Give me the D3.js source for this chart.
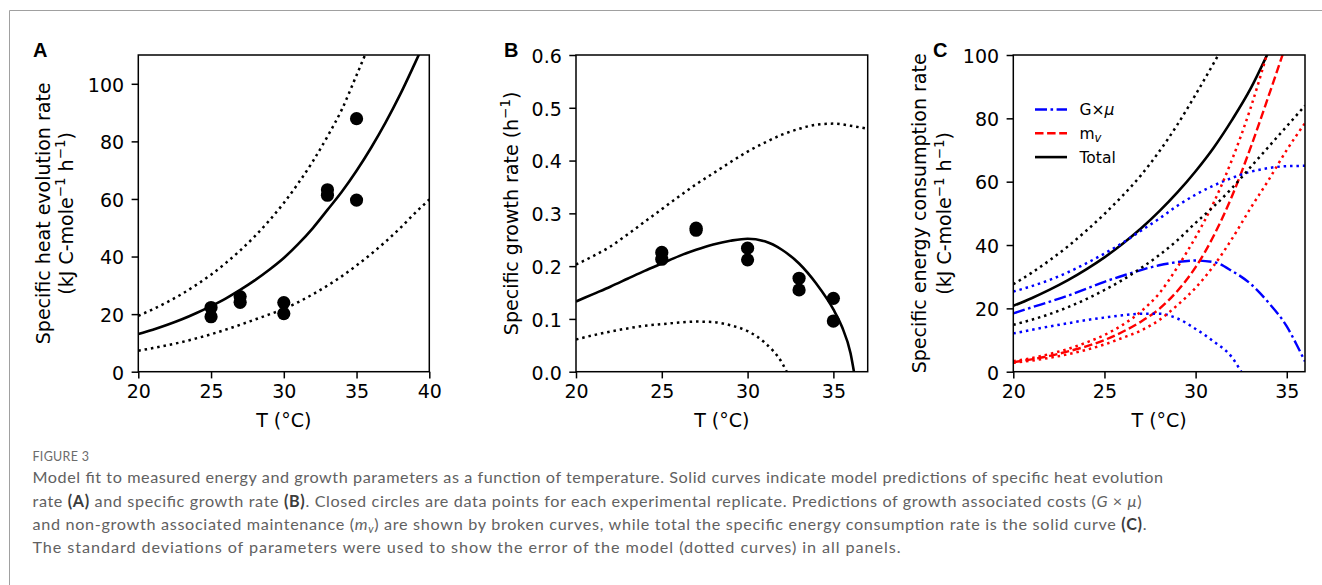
<!DOCTYPE html>
<html>
<head>
<meta charset="utf-8">
<script src="https://cdn.jsdelivr.net/npm/d3@7"></script>
<style>
  html, body { margin: 0; padding: 0; background: #fff; }
  svg { display: block; }
</style>
</head>
<body>
<svg id="fig" width="1322" height="585"></svg>
<script>
// ---------- Panel A: specific heat evolution rate ----------
const heatFitT   = [20,21,22,23,24,25,26,27,28,29,30,31,32,33,34,35,36,37,38,39,40];
const heatFit    = [13.1,14.6,16.3,18.2,20.4,22.8,25.4,28.4,31.7,35.4,39.5,44.4,49.9,56.2,62.6,69.8,77.8,86.6,96.3,107,118];
const heatUpperT = [20,21,22,23,24,25,26,27,28,29,30,31,32,33,34,35,36];
const heatUpper  = [19.4,21.7,24.2,27.0,30.2,33.7,37.7,42.1,47.0,52.5,58.6,65.5,73.1,81.7,91.2,103,115];
const heatLowerT = [20,21,22,23,24,25,26,27,28,29,30,31,32,33,34,35,36,37,38,39,40];
const heatLower  = [7.3,8.2,9.2,10.3,11.6,13.0,14.6,16.3,18.1,19.9,21.8,24.2,26.9,29.9,33.2,36.9,40.9,45.2,49.9,55.0,59.8];
const heatObsT   = [25,25,27,27,30,30,33,33,35,35];
const heatObs    = [22.3,19.1,26.1,24.1,24.0,20.2,63.2,61.3,87.9,59.6];

// ---------- Panel B: specific growth rate ----------
const growthFitT   = [20,21,22,23,24,25,26,27,28,29,30,31,32,33,34,35,35.5,36,36.2];
const growthFit    = [0.133,0.147,0.161,0.176,0.191,0.205,0.219,0.231,0.241,0.248,0.252,0.247,0.231,0.205,0.167,0.118,0.085,0.035,0.0];
const growthUpperT = [20,21,22,23,24,25,26,27,28,29,30,31,32,33,34,35,36,37];
const growthUpper  = [0.203,0.219,0.237,0.260,0.284,0.308,0.332,0.355,0.376,0.397,0.417,0.434,0.449,0.460,0.468,0.470,0.466,0.460];
const growthLowerT = [20,21,22,23,24,25,26,27,28,29,30,31,32,32.28];
const growthLower  = [0.061,0.069,0.076,0.082,0.087,0.090,0.093,0.095,0.094,0.088,0.077,0.055,0.017,0.0];
const growthObsT   = [25,25,27,27,30,30,33,33,35,35];
const growthObs    = [0.226,0.213,0.272,0.268,0.234,0.212,0.177,0.155,0.139,0.096];

// ---------- Panel C: specific energy consumption rate ----------
const gmuT        = [20,21,22,23,24,25,26,27,28,29,30,31,32,33,34,35,35.5,36];
const gmu         = [18.4,20.3,22.1,24.0,26.2,28.4,30.3,32.1,33.6,34.6,35.1,34.6,31.8,27.8,21.8,14.3,9.0,3.2];
const gmuUpperT   = [20,21,22,23,24,25,26,27,28,29,30,31,32,33,34,35,36];
const gmuUpper    = [25.3,27.0,29.0,31.4,34.2,37.3,40.7,44.5,48.3,52.4,55.9,58.8,61.2,63.1,64.3,64.9,65.0];
const gmuLowerT   = [20,21,22,23,24,25,26,27,28,29,30,31,32,32.5];
const gmuLower    = [12.1,13.2,14.3,15.3,16.3,17.1,17.8,18.3,18.3,16.8,13.5,9.5,4.5,0];
const mvT         = [20,21,22,23,24,25,26,27,28,29,30,31,32,33,34,35];
const mv          = [3.0,3.9,5.0,6.4,8.0,10.0,12.6,15.8,19.8,25.5,33.0,43.0,55.5,70.5,87,104];
const mvUpperT    = [20,21,22,23,24,25,26,27,28,29,30,31,32,33,34];
const mvUpper     = [3.3,4.3,5.6,7.2,9.2,11.6,14.8,19.0,24.7,33.0,42.5,53.5,67.0,83.0,102];
const mvLowerT    = [20,21,22,23,24,25,26,27,28,29,30,31,32,33,34,35,36];
const mvLower     = [2.8,3.5,4.4,5.5,6.9,8.6,10.7,13.0,16.3,21.0,26.5,33.5,42.0,51.5,60.5,70.0,78.5];
const totalT      = [20,21,22,23,24,25,26,27,28,29,30,31,32,33,34];
const total       = [20.8,23.2,25.9,28.9,32.3,36.1,40.4,45.2,50.6,56.6,63.3,70.8,79.5,89.2,101];
const totalUpperT = [20,21,22,23,24,25,26,27,28,29,30,31,32];
const totalUpper  = [27.6,31.2,35.2,39.6,44.5,49.8,55.6,62.0,69.5,78.0,87.5,97.5,108];
const totalLowerT = [20,21,22,23,24,25,26,27,28,29,30,31,32,33,34,35,36];
const totalLower  = [14.8,16.4,18.2,20.4,22.9,25.8,29.0,32.7,36.8,41.5,47.0,52.2,58.0,64.5,71.0,77.5,84.0];

// ---------- Tick values ----------
const ticksAx = [20,25,30,35,40];
const ticksAy = [0,20,40,60,80,100];
const ticksBx = [20,25,30,35];
const ticksBy = [0,0.1,0.2,0.3,0.4,0.5,0.6];
const ticksCx = [20,25,30,35];
const ticksCy = [0,20,40,60,80,100];

// ---------- Legend (panel C) ----------
const legendKeys = ["gmu", "mv", "total"];

// ---------- Caption ----------
const captionTitle = "FIGURE 3";

const FONT = "'DejaVu Sans', sans-serif";
const TOP = 55, BOTTOM = 371.7;
const svg = d3.select("#fig");

// figure border (top and left rules)
svg.append("line").attr("x1", 9.5).attr("x2", 1322).attr("y1", 10.5).attr("y2", 10.5)
  .attr("stroke", "#a0a0a0").attr("stroke-width", 1);
svg.append("line").attr("x1", 9.5).attr("x2", 9.5).attr("y1", 10.5).attr("y2", 585)
  .attr("stroke", "#a0a0a0").attr("stroke-width", 1);

const STYLES = {
  solid:   { dash: null, width: 2.6 },
  dotted:  { dash: "2.5,3.9", width: 2.5 },
  dashed:  { dash: "8.5,3.6", width: 2.4 },
  dashdot: { dash: "12,3.5,2.6,3.5", width: 2.4 }
};

function zip(ts, vs) { return ts.map((t, i) => [t, vs[i]]); }

function drawPanel(cfg) {
  const x = d3.scaleLinear().domain(cfg.xDomain).range([cfg.left, cfg.right]);
  const y = d3.scaleLinear().domain(cfg.yDomain).range([BOTTOM, TOP]);
  const g = svg.append("g");

  const clipId = "clip-" + cfg.id;
  g.append("clipPath").attr("id", clipId).append("rect")
    .attr("x", cfg.left).attr("y", TOP)
    .attr("width", cfg.right - cfg.left).attr("height", BOTTOM - TOP);

  const plot = g.append("g").attr("clip-path", `url(#${clipId})`);
  const line = d3.line().x(d => x(d[0])).y(d => y(d[1])).curve(d3.curveMonotoneX);

  cfg.series.forEach(s => {
    const st = STYLES[s.style];
    plot.append("path")
      .attr("d", line(zip(s.t, s.v)))
      .attr("fill", "none")
      .attr("stroke", s.color)
      .attr("stroke-width", st.width)
      .attr("stroke-dasharray", st.dash)
      .attr("stroke-linecap", "butt");
  });

  if (cfg.points) {
    plot.selectAll("circle.obs").data(zip(cfg.points.t, cfg.points.v)).join("circle")
      .attr("class", "obs")
      .attr("cx", d => x(d[0])).attr("cy", d => y(d[1]))
      .attr("r", 6.6).attr("fill", "#000");
  }

  // frame
  g.append("rect").attr("x", cfg.left).attr("y", TOP)
    .attr("width", cfg.right - cfg.left).attr("height", BOTTOM - TOP)
    .attr("fill", "none").attr("stroke", "#000").attr("stroke-width", 1.5);

  // x axis
  const xa = g.append("g").attr("transform", `translate(0,${BOTTOM})`)
    .call(d3.axisBottom(x).tickValues(cfg.xTicks).tickSize(6.7).tickFormat(d3.format("d")));
  xa.select(".domain").remove();
  xa.selectAll(".tick line").attr("stroke", "#000").attr("stroke-width", 1.5);
  xa.selectAll(".tick text").attr("y", 26.5).attr("dy", null)
    .attr("font-family", FONT).attr("font-size", 19).attr("fill", "#000");

  // y axis
  const ya = g.append("g").attr("transform", `translate(${cfg.left},0)`)
    .call(d3.axisLeft(y).tickValues(cfg.yTicks).tickSize(6.7).tickFormat(cfg.yFormat));
  ya.select(".domain").remove();
  ya.selectAll(".tick line").attr("stroke", "#000").attr("stroke-width", 1.5);
  ya.selectAll(".tick text").attr("x", -14.2).attr("dy", 7.3)
    .attr("font-family", FONT).attr("font-size", 19).attr("fill", "#000");

  // x label
  g.append("text").attr("x", (cfg.left + cfg.right) / 2).attr("y", 427)
    .attr("text-anchor", "middle").attr("font-family", FONT).attr("font-size", 19)
    .text("T (°C)");

  // y label lines (rotated)
  const cy = (TOP + BOTTOM) / 2;
  cfg.yLabel.forEach(lbl => {
    const t = g.append("text")
      .attr("transform", `translate(${lbl.x},${cy}) rotate(-90)`)
      .attr("text-anchor", "middle").attr("font-family", FONT).attr("font-size", 19);
    lbl.parts.forEach(p => {
      const ts = t.append("tspan").text(p.text);
      if (p.sup) ts.attr("font-size", 13.5).attr("dy", -7.5);
      if (p.down) ts.attr("dy", 7.5);
    });
  });

  // panel letter
  g.append("text").attr("x", cfg.letterX).attr("y", 57)
    .attr("font-family", "'Liberation Sans', Arial, sans-serif").attr("font-weight", "bold")
    .attr("font-size", 20).text(cfg.letter);

  return { x, y, g };
}

const kjUnit = [
  { text: "(kJ C-mole" }, { text: "−1", sup: true }, { text: " h", down: true },
  { text: "−1", sup: true }, { text: ")", down: true }
];

// Panel A
drawPanel({
  id: "a", letter: "A", letterX: 33,
  left: 138.3, right: 429.3, xDomain: [20, 40], yDomain: [0, 110],
  xTicks: ticksAx, yTicks: ticksAy, yFormat: d3.format("d"),
  yLabel: [
    { x: 49.5, parts: [{ text: "Specific heat evolution rate" }] },
    { x: 72.5, parts: kjUnit }
  ],
  series: [
    { t: heatUpperT, v: heatUpper, style: "dotted", color: "#000" },
    { t: heatLowerT, v: heatLower, style: "dotted", color: "#000" },
    { t: heatFitT, v: heatFit, style: "solid", color: "#000" }
  ],
  points: { t: heatObsT, v: heatObs }
});

// Panel B
drawPanel({
  id: "b", letter: "B", letterX: 504,
  left: 576, right: 867.7, xDomain: [20, 37], yDomain: [0, 0.6],
  xTicks: ticksBx, yTicks: ticksBy, yFormat: d3.format(".1f"),
  yLabel: [
    { x: 517.5, parts: [{ text: "Specific growth rate (h" }, { text: "−1", sup: true }, { text: ")", down: true }] }
  ],
  series: [
    { t: growthUpperT, v: growthUpper, style: "dotted", color: "#000" },
    { t: growthLowerT, v: growthLower, style: "dotted", color: "#000" },
    { t: growthFitT, v: growthFit, style: "solid", color: "#000" }
  ],
  points: { t: growthObsT, v: growthObs }
});

// Panel C
const BLUE = "#0000ff", RED = "#ff0000";
const pc = drawPanel({
  id: "c", letter: "C", letterX: 933,
  left: 1013.3, right: 1305, xDomain: [20, 36], yDomain: [0, 100],
  xTicks: ticksCx, yTicks: ticksCy, yFormat: d3.format("d"),
  yLabel: [
    { x: 926, parts: [{ text: "Specific energy consumption rate" }] },
    { x: 951, parts: kjUnit }
  ],
  series: [
    { t: gmuT, v: gmu, style: "dashdot", color: BLUE },
    { t: mvT, v: mv, style: "dashed", color: RED },
    { t: totalT, v: total, style: "solid", color: "#000" },
    { t: gmuUpperT, v: gmuUpper, style: "dotted", color: BLUE },
    { t: gmuLowerT, v: gmuLower, style: "dotted", color: BLUE },
    { t: mvUpperT, v: mvUpper, style: "dotted", color: RED },
    { t: mvLowerT, v: mvLower, style: "dotted", color: RED },
    { t: totalUpperT, v: totalUpper, style: "dotted", color: "#000" },
    { t: totalLowerT, v: totalLower, style: "dotted", color: "#000" }
  ]
});

// legend in panel C
const legendStyle = {
  gmu:   { style: "dashdot", color: BLUE },
  mv:    { style: "dashed", color: RED },
  total: { style: "solid", color: "#000" }
};
const leg = pc.g.append("g");
legendKeys.forEach((k, i) => {
  const yy = 109.5 + i * 23.8;
  const st = STYLES[legendStyle[k].style];
  leg.append("line").attr("x1", 1035).attr("x2", 1067).attr("y1", yy).attr("y2", yy)
    .attr("stroke", legendStyle[k].color).attr("stroke-width", st.width)
    .attr("stroke-dasharray", st.dash);
  const t = leg.append("text").attr("x", 1079.5).attr("y", yy + 5.6)
    .attr("font-family", FONT).attr("font-size", 15.5);
  if (k === "gmu") {
    t.append("tspan").text("G×");
    t.append("tspan").attr("font-style", "italic").text("μ");
  } else if (k === "mv") {
    t.append("tspan").text("m");
    t.append("tspan").attr("font-size", 11.5).attr("font-style", "italic").attr("dy", 3.5).text("v");
  } else {
    t.append("tspan").text("Total");
  }
});

// ---------- Caption ----------
const CAP_FONT = "Lato, 'Open Sans', sans-serif";
svg.append("text").attr("x", 32.5).attr("y", 461)
  .attr("font-family", CAP_FONT).attr("font-size", 12.5).attr("fill", "#6b6b6b")
  .attr("letter-spacing", 0.3).text(captionTitle);

const captionLines = [
  { y: 483.3, len: 1130.5, parts: [
    { t: "Model fit to measured energy and growth parameters as a function of temperature. Solid curves indicate model predictions of specific heat evolution" }
  ]},
  { y: 506.6, len: 1109, parts: [
    { t: "rate " }, { t: "(A)", b: true }, { t: " and specific growth rate " }, { t: "(B)", b: true },
    { t: ". Closed circles are data points for each experimental replicate. Predictions of growth associated costs (" },
    { t: "G", i: true }, { t: " × " }, { t: "μ", i: true }, { t: ")" }
  ]},
  { y: 529.9, len: 1114, parts: [
    { t: "and non-growth associated maintenance (" }, { t: "m", i: true }, { t: "v", i: true, sub: true },
    { t: ") are shown by broken curves, while total the specific energy consumption rate is the solid curve ", back: true },
    { t: "(C)", b: true }, { t: "." }
  ]},
  { y: 553.2, len: 868, parts: [
    { t: "The standard deviations of parameters were used to show the error of the model (dotted curves) in all panels." }
  ]}
];

captionLines.forEach(line => {
  const t = svg.append("text").attr("x", 32.5).attr("y", line.y)
    .attr("font-family", CAP_FONT).attr("font-size", 16.2).attr("fill", "#616161")
    .attr("textLength", line.len).attr("lengthAdjust", "spacing");
  line.parts.forEach(p => {
    const ts = t.append("tspan").text(p.t);
    if (p.b) ts.attr("font-weight", "bold").attr("fill", "#3c3c3c");
    if (p.i) ts.attr("font-style", "italic");
    if (p.sub) ts.attr("font-size", 11).attr("dy", 3);
    if (p.back) ts.attr("dy", -3);
  });
});
</script>
</body>
</html>
